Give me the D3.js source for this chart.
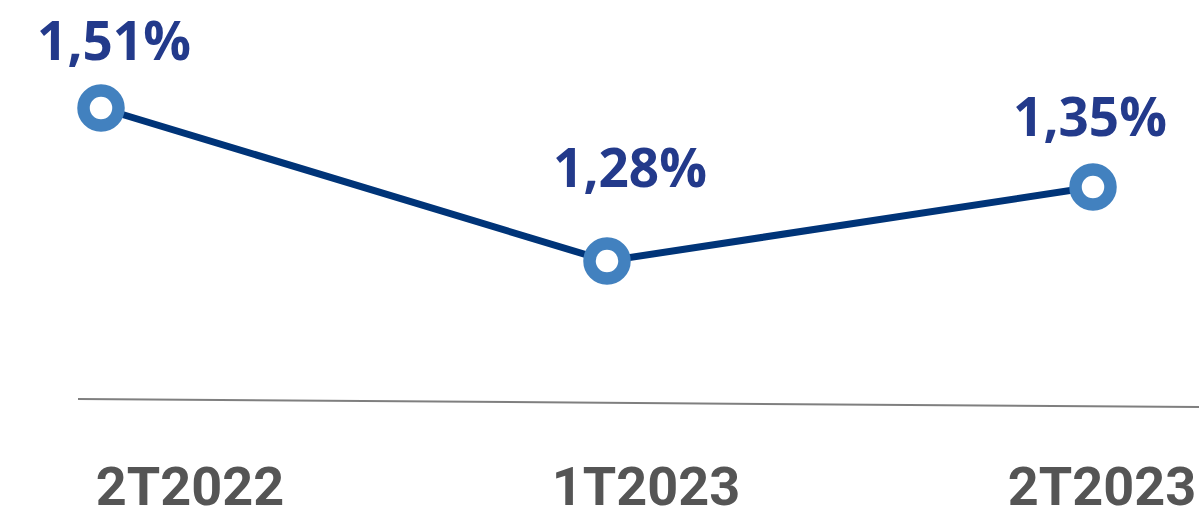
<!DOCTYPE html>
<html>
<head>
<meta charset="utf-8">
<script src="https://cdn.jsdelivr.net/npm/d3@7"></script>
<style>
  body { margin: 0; background: #fff; }
  svg { display: block; }
</style>
</head>
<body>
<div id="chart"></div>
<script>
// data
var categories = ["2T2022", "1T2023", "2T2023"]
var values = [1.51, 1.28, 1.35]
var valueLabels = ["1,51%", "1,28%", "1,35%"]

// layout tweaks for the value labels (offset from each point)
var labelDx = [13, 23, -3]
var labelDy = [-48, -74, -51]

var width = 1199, height = 512

var svg = d3.select("#chart")
  .append("svg")
  .attr("width", width)
  .attr("height", height)

// point x positions
var x = d3.scaleLinear()
  .domain([0, 1, 2])
  .range([101, 607, 1093])

// category label positions
var xLabel = d3.scalePoint()
  .domain(categories)
  .range([190, 1102])

// y (the source chart is not quite linear, so piecewise)
var y = d3.scaleLinear()
  .domain([1.28, 1.35, 1.51])
  .range([261, 187, 108])

// baseline (slightly tilted in the original)
svg.append("line")
  .attr("x1", 78).attr("y1", 399)
  .attr("x2", width).attr("y2", 407)
  .style("stroke", "#7f7f7f")
  .style("stroke-width", 2)

// category labels
svg.append("g")
  .selectAll("text")
  .data(categories)
  .enter()
  .append("text")
  .attr("x", d => xLabel(d))
  .attr("y", 505)
  .attr("text-anchor", "middle")
  .style("font-family", "Roboto, 'Open Sans', sans-serif")
  .style("font-weight", "bold")
  .style("font-size", "54px")
  .style("fill", "#555555")
  .text(d => d)

// line
var line = d3.line()
  .x((d, i) => x(i))
  .y(d => y(d))

svg.append("path")
  .datum(values)
  .attr("d", line)
  .style("fill", "none")
  .style("stroke", "#003478")
  .style("stroke-width", 7)

// markers
svg.append("g")
  .selectAll("circle")
  .data(values)
  .enter()
  .append("circle")
  .attr("cx", (d, i) => x(i))
  .attr("cy", d => y(d))
  .attr("r", 17.5)
  .style("fill", "#ffffff")
  .style("stroke", "#4281bf")
  .style("stroke-width", 12.5)

// value labels
svg.append("g")
  .selectAll("text")
  .data(values)
  .enter()
  .append("text")
  .attr("x", (d, i) => x(i) + labelDx[i])
  .attr("y", (d, i) => y(d) + labelDy[i])
  .attr("text-anchor", "middle")
  .style("font-family", "'Open Sans', sans-serif")
  .style("font-weight", "bold")
  .style("font-size", "53px")
  .style("fill", "#233a8b")
  .text((d, i) => valueLabels[i])
</script>
</body>
</html>
